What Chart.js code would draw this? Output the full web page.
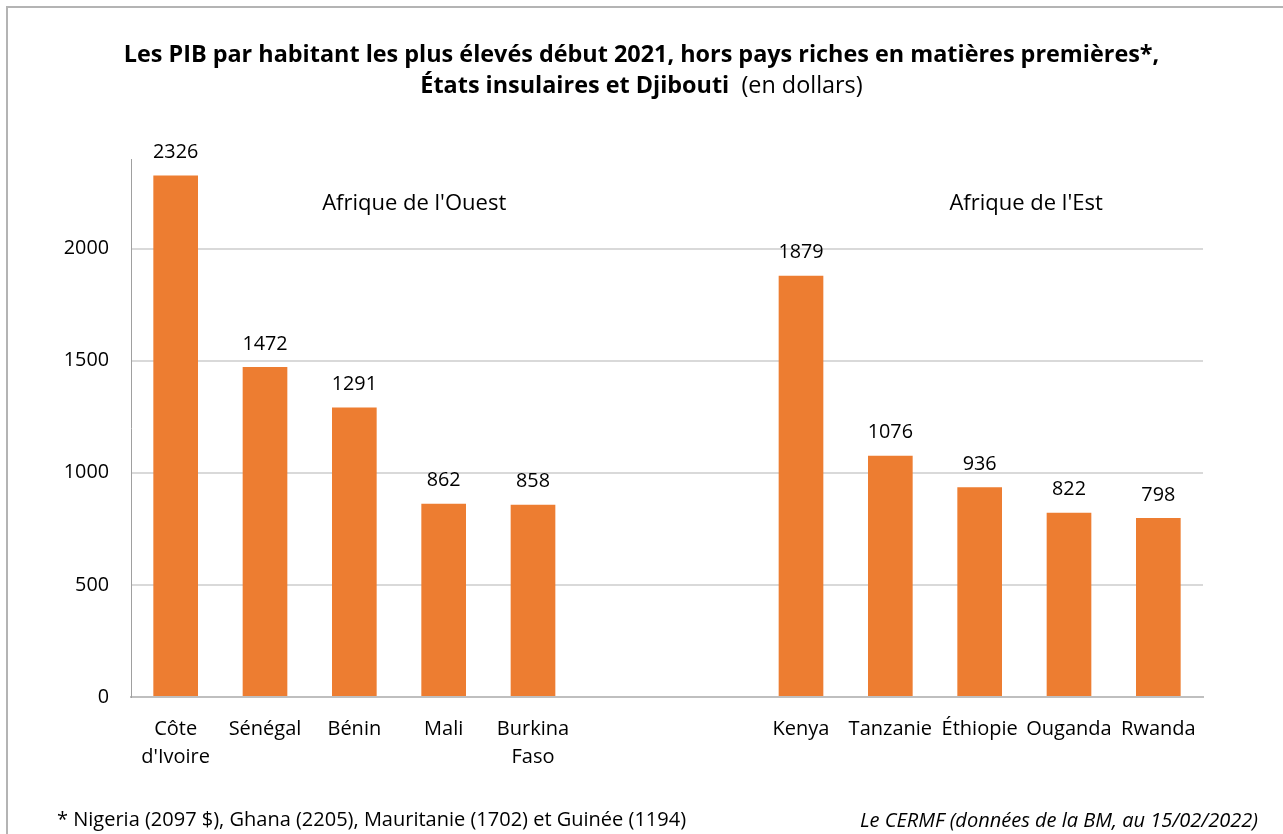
<!DOCTYPE html>
<html>
<head>
<meta charset="utf-8">
<script src="https://cdn.jsdelivr.net/npm/chart.js@4"></script>
<style>
  body { margin: 0; background: #fff; }
  #wrap { position: relative; width: 1283px; height: 834px; overflow: hidden; }
  #frame { position: absolute; left: 6px; top: 6px; width: 1400px; height: 1000px;
           border-top: 2px solid #b4b4b4; border-left: 2px solid #b4b4b4; }
  canvas { position: absolute; left: 0; top: 0; }
</style>
</head>
<body>
<div id="wrap">
  <div id="frame"></div>
  <canvas id="pibChart" width="1283" height="834"></canvas>
</div>
<script>
// data
const categories = [['Côte', "d'Ivoire"], 'Sénégal', 'Bénin', 'Mali', ['Burkina', 'Faso'], '', '', 'Kenya', 'Tanzanie', 'Éthiopie', 'Ouganda', 'Rwanda'];
const gdpPerCapita = [2326, 1472, 1291, 862, 858, null, null, 1879, 1076, 936, 822, 798];
const yTicks = [0, 500, 1000, 1500, 2000];
const yMax = 2400;
const regionLabels = ["Afrique de l'Ouest", "Afrique de l'Est"];
const regionAt = [2.67, 9.52];      // category index where the label is centred
const regionLevel = [2200, 2200];   // value level of the label

const titleBold1 = 'Les PIB par habitant les plus élevés début 2021, hors pays riches en matières premières*,';
const titleBold2 = 'États insulaires et Djibouti';
const titleNormal2 = '  (en dollars)';
const noteLeft = '* Nigeria (2097 $), Ghana (2205), Mauritanie (1702) et Guinée (1194)';
const noteRight = 'Le CERMF (données de la BM, au 15/02/2022)';

const FONT = '"Open Sans", Lato, sans-serif';
const BAR_COLOR = '#ED7D31';

// titre, étiquettes de valeurs, régions et notes
const extrasPlugin = {
  id: 'extras',
  afterDatasetsDraw(chart) {
    const ctx = chart.ctx;
    const x = chart.scales.x, y = chart.scales.y;
    ctx.save();
    ctx.fillStyle = '#000';
    ctx.textBaseline = 'middle';

    // valeurs au-dessus des barres
    ctx.font = '19.8px ' + FONT;
    ctx.textAlign = 'center';
    const meta = chart.getDatasetMeta(0);
    meta.data.forEach((bar, i) => {
      const v = gdpPerCapita[i];
      if (v == null) return;
      ctx.fillText(String(v), bar.x, bar.y - 23);
    });

    // régions
    ctx.font = '22px ' + FONT;
    regionLabels.forEach((txt, i) => {
      ctx.fillText(txt, x.getPixelForValue(regionAt[i]), y.getPixelForValue(regionLevel[i]));
    });

    // titre
    const cx = chart.width / 2;
    ctx.font = 'bold 23.4px ' + FONT;
    ctx.fillText(titleBold1, cx, 55);
    const w1 = ctx.measureText(titleBold2).width;
    ctx.font = '23.4px ' + FONT;
    const w2 = ctx.measureText(titleNormal2).width;
    const start = cx - (w1 + w2) / 2;
    ctx.textAlign = 'left';
    ctx.font = 'bold 23.4px ' + FONT;
    ctx.fillText(titleBold2, start, 86);
    ctx.font = '23.4px ' + FONT;
    ctx.fillText(titleNormal2, start + w1, 86);

    // notes
    ctx.font = '20px ' + FONT;
    ctx.fillText(noteLeft, 57, 820);
    ctx.font = 'italic 20px ' + FONT;
    ctx.textAlign = 'right';
    ctx.fillText(noteRight, 1258, 821);
    ctx.restore();
  }
};

new Chart(document.getElementById('pibChart'), {
  type: 'bar',
  data: {
    labels: categories,
    datasets: [{
      data: gdpPerCapita,
      backgroundColor: BAR_COLOR,
      barPercentage: 0.5,
      categoryPercentage: 1.0
    }]
  },
  options: {
    responsive: false,
    animation: false,
    layout: { padding: { left: 0, top: 159, right: 80, bottom: 0 } },
    plugins: { legend: { display: false }, tooltip: { enabled: false } },
    scales: {
      x: {
        afterFit(scale) { scale.height = 834 - 697; },
        grid: { display: false },
        border: { display: true, color: '#bfbfbf', width: 2 },
        ticks: { color: '#000', font: { family: FONT, size: 20, lineHeight: 1.4 }, padding: 10, maxRotation: 0, autoSkip: false }
      },
      y: {
        min: 0,
        max: yMax,
        afterFit(scale) { scale.width = 131; },
        afterBuildTicks(scale) { scale.ticks = yTicks.map(v => ({ value: v })); },
        grid: { color: '#d9d9d9', lineWidth: 2, drawTicks: false },
        border: { display: true, color: '#a0a0a0', width: 1 },
        ticks: { color: '#000', font: { family: FONT, size: 19.8 }, padding: 22, callback: v => String(v) }
      }
    }
  },
  plugins: [extrasPlugin]
});
</script>
</body>
</html>
